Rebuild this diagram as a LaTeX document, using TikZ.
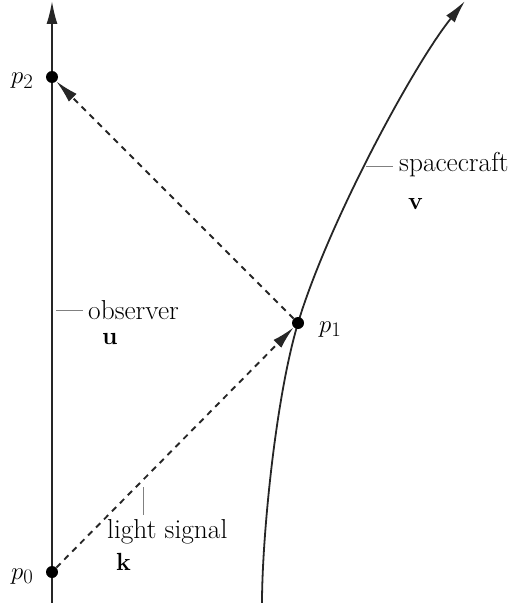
\documentclass[tikz,border=0pt]{standalone}
\usetikzlibrary{arrows.meta}
\begin{document}
\begin{tikzpicture}[x=1bp,y=-1bp,
  wl/.style={line width=1.8bp, draw=black!85},
  sig/.style={line width=1.9bp, draw=black!85, dash pattern=on 6bp off 5.3bp},
  tip/.style={-{Latex[length=23bp,width=11bp]}},
  dot/.style={circle, fill=black, inner sep=0pt, minimum size=12bp},
  lead/.style={line width=0.8bp, draw=black!50},
  lbl/.style={font=\fontsize{27.5}{33}\selectfont, inner sep=0pt, anchor=base west}
]
\useasboundingbox (0,0) rectangle (512,603);
% coordinates
\coordinate (ob) at (52,603);
\coordinate (ot) at (52,1);
\coordinate (sb) at (262,603);
\coordinate (st) at (465,1);
\coordinate (c1) at (298,323);
% world lines
\draw[wl,tip] (ob) -- (ot);
\draw[wl,tip] (sb) .. controls (262,540) and (275,400) .. (c1)
   .. controls (328,223) and (414,64) .. (st);
% events
\node[dot] (p0) at (52,572) {};
\node[dot] (p1) at (c1) {};
\node[dot] (p2) at (52,77) {};
% light signals
\draw[sig,tip] (p0) -- (p1);
\draw[sig,tip] (p1) -- (p2);
% event labels
\node[lbl] (l0) at (11,579) {$p_0$};
\node[lbl] (l1) at (319,332) {$p_1$};
\node[lbl] (l2) at (11,84) {$p_2$};
% observer label
\coordinate (oa) at (56,310);
\coordinate (ob2) at (83,310);
\draw[lead] (oa) -- (ob2);
\node[lbl] (obs) at (88,319) {observer};
\node[lbl] (u) at (102,344) {$\mathbf{u}$};
% spacecraft label
\coordinate (sa) at (366,166);
\coordinate (sb2) at (393,166);
\draw[lead] (sa) -- (sb2);
\node[lbl] (sc) at (399,172) {spacecraft};
\node[lbl] (v) at (408,209) {$\mathbf{v}$};
% light signal label
\coordinate (ka) at (143,487);
\coordinate (kb) at (143,515);
\draw[lead] (ka) -- (kb);
\node[lbl] (ls) at (107,538) {light signal};
\node[lbl] (k) at (116,570) {$\mathbf{k}$};
\end{tikzpicture}
\end{document}
